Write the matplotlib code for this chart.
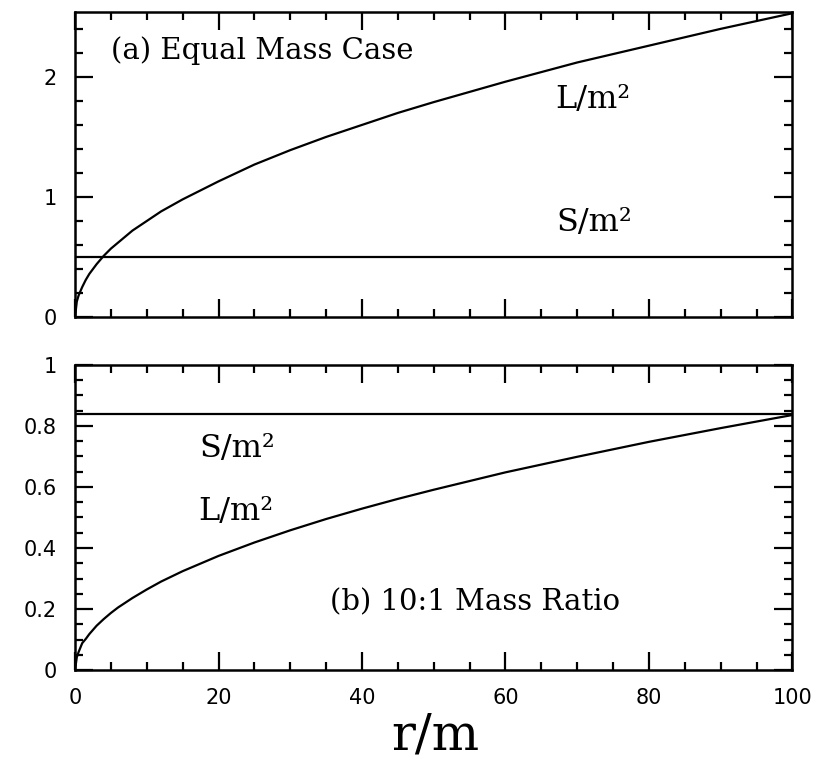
import numpy as np
import matplotlib
matplotlib.use("Agg")
import matplotlib.pyplot as plt
from matplotlib.ticker import MultipleLocator, FixedLocator, FixedFormatter

# Separation r/m
r = [0, 0.25, 0.5, 1, 1.5, 2, 3, 4, 5, 6, 8, 10, 12, 15, 20, 25, 30, 35,
     40, 45, 50, 60, 70, 80, 90, 100]
# (a) Equal mass case
L_equal = [0, 0.13, 0.18, 0.25, 0.31, 0.36, 0.44, 0.51, 0.57, 0.62, 0.72,
           0.80, 0.88, 0.98, 1.13, 1.27, 1.39, 1.50, 1.60, 1.70, 1.79, 1.96,
           2.12, 2.26, 2.40, 2.53]
S_equal = [0.5, 0.5]
# (b) 10:1 mass ratio
L_ratio = [0, 0.042, 0.059, 0.088, 0.102, 0.118, 0.145, 0.167, 0.187, 0.205,
           0.236, 0.264, 0.290, 0.324, 0.374, 0.418, 0.458, 0.495, 0.529,
           0.561, 0.591, 0.648, 0.699, 0.748, 0.793, 0.836]
S_ratio = [0.84, 0.84]
r_span = [0, 100]

x_ticks = [0, 20, 40, 60, 80, 100]
x_labels = ["0", "20", "40", "60", "80", "100"]
y_ticks_a = [0, 1, 2]
y_labels_a = ["0", "1", "2"]
y_ticks_b = [0, 0.2, 0.4, 0.6, 0.8, 1.0]
y_labels_b = ["0", "0.2", "0.4", "0.6", "0.8", "1"]

SERIF = "DejaVu Serif"
SANS = "DejaVu Sans"
LW = 1.6
TXT = 21


def style_axes(ax, minor_y):
    for s in ax.spines.values():
        s.set_linewidth(1.8)
    ax.xaxis.set_minor_locator(MultipleLocator(5))
    ax.yaxis.set_minor_locator(MultipleLocator(minor_y))
    ax.tick_params(which="both", direction="in", top=True, right=True,
                   width=1.6, pad=13)
    ax.tick_params(which="major", length=13)
    ax.tick_params(which="minor", length=6)
    for lab in ax.get_xticklabels() + ax.get_yticklabels():
        lab.set_fontfamily(SANS)
        lab.set_fontsize(15)


fig = plt.figure(figsize=(8.19, 7.81), dpi=100)
ax1 = fig.add_axes([0.0916, 0.594, 0.876, 0.3906])
ax2 = fig.add_axes([0.0916, 0.1421, 0.876, 0.3906])

# (a)
ax1.plot(r, L_equal, color="black", lw=LW)
ax1.plot(r_span, S_equal, color="black", lw=LW)
ax1.set_xlim(0, 100)
ax1.set_ylim(0, 2.54)
ax1.xaxis.set_major_locator(FixedLocator(x_ticks))
ax1.yaxis.set_major_locator(FixedLocator(y_ticks_a))
ax1.yaxis.set_major_formatter(FixedFormatter(y_labels_a))
ax1.set_xticklabels([])
style_axes(ax1, 0.2)
ax1.text(5.0, 2.22, "(a) Equal Mass Case", family=SERIF, fontsize=TXT,
         va="center", ha="left")
ax1.text(72.2, 1.81, "L/m²", family=SERIF, fontsize=TXT + 2, ha="center", va="center")
ax1.text(72.4, 0.79, "S/m²", family=SERIF, fontsize=TXT + 2, ha="center", va="center")

# (b)
ax2.plot(r, L_ratio, color="black", lw=LW)
ax2.plot(r_span, S_ratio, color="black", lw=LW)
ax2.set_xlim(0, 100)
ax2.set_ylim(0, 1)
ax2.xaxis.set_major_locator(FixedLocator(x_ticks))
ax2.xaxis.set_major_formatter(FixedFormatter(x_labels))
ax2.yaxis.set_major_locator(FixedLocator(y_ticks_b))
ax2.yaxis.set_major_formatter(FixedFormatter(y_labels_b))
style_axes(ax2, 0.05)
ax2.text(22.6, 0.725, "S/m²", family=SERIF, fontsize=TXT + 2, ha="center", va="center")
ax2.text(22.4, 0.52, "L/m²", family=SERIF, fontsize=TXT + 2, ha="center", va="center")
ax2.text(35.6, 0.223, "(b) 10:1 Mass Ratio", family=SERIF, fontsize=TXT,
         ha="left", va="center")

fig.text(0.532, 0.058, "r/m", family=SERIF, fontsize=36, ha="center", va="center")

fig.savefig("out.png", dpi=100)
